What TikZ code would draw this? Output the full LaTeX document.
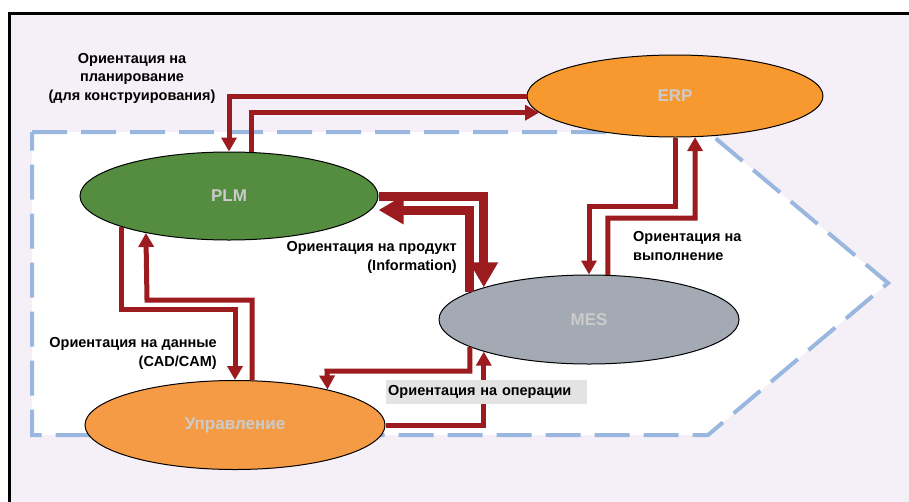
\documentclass[tikz,border=0pt]{standalone}
\usepackage{fontspec}
\setmainfont{Liberation Sans}
\usetikzlibrary{arrows.meta,calc,shapes.geometric}
\definecolor{bg}{HTML}{F5F0F7}
\definecolor{dashblue}{HTML}{9AB7E0}
\definecolor{erporange}{HTML}{F7992F}
\definecolor{uprorange}{HTML}{F69B45}
\definecolor{plmgreen}{HTML}{558D40}
\definecolor{mesgray}{HTML}{A3AAB4}
\definecolor{arrowred}{HTML}{9B1B1F}
\definecolor{labelgray}{HTML}{CBCBCB}
\definecolor{boxgray}{HTML}{E3E3E3}
\begin{document}
\begin{tikzpicture}[x=1pt,y=-1pt,
  sys/.style={ellipse, draw=black, line width=1pt, inner sep=0pt, text=labelgray,
    font=\fontsize{17}{20}\selectfont\bfseries},
  arr/.style={draw=arrowred, line width=5pt, -{Triangle[width=15pt,length=14pt]}},
  bigarr/.style={draw=arrowred, line width=9pt, -{Triangle[width=27pt,length=25pt]}},
  lbl/.style={font=\fontsize{14.5}{18.5}\selectfont\bfseries, inner sep=0pt}]
\useasboundingbox (0,0) rectangle (909,501);
\fill[white] (0,0) rectangle (909,501);
\draw[line width=3pt, fill=bg] (9,13) rectangle (930,530);
\draw[dashblue, line width=4pt, fill=white, dash pattern=on 35pt off 14pt]
  (32,132) -- (708,132) -- (888,283) -- (708,435) -- (32,435) -- cycle;

\node[sys, fill=erporange, minimum width=296pt, minimum height=82pt] (erp) at (675,96) {ERP};
\node[sys, fill=plmgreen, minimum width=298pt, minimum height=88pt] (plm) at (229,196) {PLM};
\node[sys, fill=mesgray, minimum width=300pt, minimum height=89pt] (mes) at (589,319.5) {MES};
\node[sys, fill=uprorange, minimum width=300pt, minimum height=89pt] (upr) at (235,425) {Управление};

\draw[arr] (erp.west) -| (plm.north);
\draw[arr] (plm.63) |- (erp.187);
\draw[arr] (plm.196) |- ([yshift=70.5pt]upr.north) -- (upr.north);
\draw[arr] (upr.69) |- (147,300) -- (plm.204);
\draw[bigarr] (plm.east) -| (mes.163);
\draw[bigarr] (mes.167.5) |- ([yshift=-14pt]plm.east);
\draw[arr] (erp.south) |- ([yshift=68pt]mes.north) -- (mes.north);
\draw[arr] (mes.67) |- (695,218) -- (erp.296);
\draw[arr] (mes.193) |- (327,371) -- (upr.21);
\draw[arr] (upr.east) -| (mes.197);

\node[lbl, align=center] (l1) at (132,78) {Ориентация на\\планирование\\(для конструирования)};
\node[lbl, align=right, anchor=east] (l2) at (457,257.5) {Ориентация на продукт\\(Information)};
\node[lbl, align=right, anchor=east] (l3) at (217,353.5) {Ориентация на данные\\(CAD/CAM)};
\node[lbl, align=left, anchor=west] (l4) at (633,246) {Ориентация на\\выполнение};
\node[lbl, fill=boxgray, anchor=west, minimum height=24pt, text width=197pt, inner xsep=2pt, align=left] (l5) at (386,392) {Ориентация на операции};
\end{tikzpicture}
\end{document}
